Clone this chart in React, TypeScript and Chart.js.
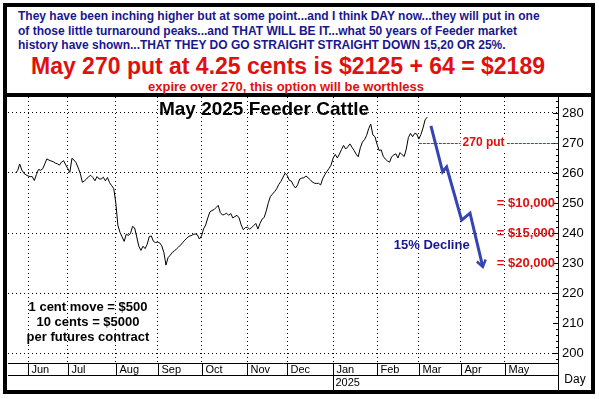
import React, { useEffect, useRef } from 'react';
import { Chart, registerables } from 'chart.js';

Chart.register(...registerables);

// Daily settlement prices (trading-day index 0 = late May 2024)
const prices = [
  260.0, 260.8, 263.0, 261.0, 259.9, 259.4,
  259.0, 258.8, 258.8, 257.5, 259.5, 261.2, 260.9, 261.4, 263.0, 264.7,
  264.3, 264.0, 263.8, 263.3, 263.1, 262.6, 263.6, 264.1, 262.7, 261.5,
  260.2, 264.9, 264.3, 263.4, 261.7, 259.8, 256.9, 257.4, 258.0, 258.8,
  259.2, 258.5, 257.4, 258.8, 258.0, 258.0, 258.6, 257.4, 258.5, 256.8,
  255.8, 254.8, 250.0, 242.5, 240.2, 238.7, 237.2, 239.6, 239.2, 239.8,
  242.2, 241.7, 238.7, 235.6, 234.2, 235.6, 234.8, 236.2, 238.8, 239.0,
  237.2, 236.8, 237.0, 236.7, 235.7, 233.5, 229.3, 231.8, 232.6, 233.5,
  234.0, 234.7, 235.3, 236.0, 236.8, 237.6, 238.3, 238.9, 239.1, 239.5,
  239.7, 239.4, 238.0, 239.0, 241.4, 242.7, 245.0, 247.0, 247.5, 247.8,
  248.5, 249.2, 246.8, 246.0, 246.2, 246.6, 245.9, 246.5, 245.0, 245.5,
  245.9, 245.0, 242.7, 241.1, 241.8, 241.9, 241.3, 241.8, 242.5, 243.2,
  241.3, 243.2, 244.6, 245.2, 247.4, 250.1, 252.2, 253.0, 253.8, 254.8,
  256.2, 257.2, 258.6, 259.9, 259.2, 257.6, 257.3, 255.9, 255.0, 256.1,
  258.0, 258.3, 258.4, 259.0, 258.4, 257.8, 257.0, 256.6, 256.5, 256.6,
  256.0, 258.1, 259.4, 260.5, 261.5, 262.6, 265.0, 266.2, 265.0, 266.3,
  267.8, 269.2, 268.0, 268.7, 269.7, 268.6, 267.5, 266.3, 265.4, 268.4,
  270.3, 271.1, 272.5, 274.8, 276.3, 272.7, 272.1, 269.6, 267.5, 267.7,
  265.5, 264.6, 264.0, 263.6, 265.4, 266.0, 266.4, 265.0, 266.8, 266.1,
  265.5, 268.0, 271.8, 273.2, 272.1, 273.2, 273.0, 271.3, 272.8, 275.0,
  277.7, 278.6,
];

const monthLabels = ['Jun', 'Jul', 'Aug', 'Sep', 'Oct', 'Nov', 'Dec', 'Jan', 'Feb', 'Mar', 'Apr', 'May'];
const monthStarts = [6, 25, 48, 68, 89, 111, 130, 152, 173, 193, 213, 234];
const yearLabel = '2025';
const yearMonthIndex = 7;
const xMin = -3.6;
const xMax = 259.6;

const yTicks = [200, 210, 220, 230, 240, 250, 260, 270, 280];
const yMin = 196.67;
const yMax = 285.33;

const putStrike = 270;
const putStartDay = 193;
const putLabelDay = 224;
const putLabel = '270 put';

const arrowDays = [198.8, 204.4, 206.3, 213.5, 217.5, 223.6];
const arrowPrices = [275.7, 260.4, 262.0, 244.3, 246.6, 228.7];
const declineLabel = '15% Decline';
const declineDay = 181;
const declinePrice = 235.7;

const lossLevels = [250, 240, 230];
const lossLabels = ['= $10,000', '= $15,000', '= $20,000'];

const chartTitle = 'May 2025 Feeder Cattle';
const noteLines = ['1 cent move = $500', '10 cents = $5000', 'per futures contract'];

const headerLines = [
  'They have been inching higher but at some point...and I think DAY now...they will put in one',
  'of those little turnaround peaks...and THAT WILL BE IT...what 50 years of Feeder market',
  'history have shown...THAT THEY DO GO STRAIGHT STRAIGHT DOWN 15,20 OR 25%.',
];
const headline = 'May 270 put at 4.25 cents is $2125 + 64 = $2189';
const subline = 'expire over 270, this option will be worthless';

const FONT = '"Liberation Sans", Arial, Helvetica, sans-serif';
const RED = '#e01010';
const NAVY = '#18188e';
const ARROW = '#3444b4';

const annotatePlugin = {
  id: 'annotate',
  afterDraw(chart: any) {
    const { ctx, chartArea: a, scales } = chart;
    const x = scales.x;
    const y = scales.y;
    const H = chart.height;
    const line = (x1: number, y1: number, x2: number, y2: number) => {
      ctx.beginPath();
      ctx.moveTo(x1, y1);
      ctx.lineTo(x2, y2);
      ctx.stroke();
    };
    ctx.save();
    ctx.strokeStyle = '#000';
    ctx.lineWidth = 1;
    ctx.setLineDash([]);

    // bottom date bands
    const band1 = Math.round(a.bottom) + 12;
    line(a.left, band1 + 0.5, a.right, band1 + 0.5);
    const axisX = Math.round(a.right) + 0.5;
    line(axisX, a.bottom, axisX, H);
    ctx.fillStyle = '#000';
    ctx.font = `11px ${FONT}`;
    ctx.textAlign = 'left';
    ctx.textBaseline = 'middle';
    monthStarts.forEach((d, i) => {
      const px = Math.round(x.getPixelForValue(d)) + 0.5;
      line(px, a.bottom, px, i === yearMonthIndex ? H : band1);
      ctx.fillText(monthLabels[i], px + 3, a.bottom + 7);
      if (i === yearMonthIndex) ctx.fillText(yearLabel, px + 2, band1 + 8);
    });
    ctx.font = `12px ${FONT}`;
    ctx.textAlign = 'center';
    ctx.fillText('Day', a.right + 17, band1 + 5);

    // minor ticks on the price axis
    for (let v = 198; v <= 284; v += 2) {
      const py = Math.round(y.getPixelForValue(v)) + 0.5;
      const len = v % 10 === 0 ? 5 : 2;
      line(a.right - len, py, a.right, py);
    }

    // title
    ctx.fillStyle = '#000';
    ctx.font = `bold 19px ${FONT}`;
    ctx.textAlign = 'center';
    ctx.textBaseline = 'middle';
    ctx.fillText(chartTitle, a.left + 256, a.top + 13);

    // notes bottom-left
    ctx.font = `bold 13px ${FONT}`;
    noteLines.forEach((t, i) => {
      ctx.fillText(t, a.left + 80, a.top + 210 + i * 15);
    });

    // 270 put line
    const py = y.getPixelForValue(putStrike);
    ctx.strokeStyle = RED;
    ctx.setLineDash([3, 1]);
    line(x.getPixelForValue(putStartDay), Math.round(py) + 0.5, a.right, Math.round(py) + 0.5);
    ctx.setLineDash([]);
    ctx.font = `bold 12px ${FONT}`;
    const lx = x.getPixelForValue(putLabelDay);
    const w = ctx.measureText(putLabel).width;
    ctx.fillStyle = '#fff';
    ctx.fillRect(lx - w / 2 - 2, py - 7, w + 4, 14);
    ctx.fillStyle = RED;
    ctx.fillText(putLabel, lx, py);

    // loss levels
    ctx.font = `bold 13px ${FONT}`;
    ctx.textAlign = 'right';
    lossLevels.forEach((lv, i) => {
      ctx.fillText(lossLabels[i], a.right - 3, y.getPixelForValue(lv));
    });

    // blue arrow
    ctx.strokeStyle = ARROW;
    ctx.lineWidth = 3;
    ctx.lineJoin = 'miter';
    ctx.beginPath();
    arrowDays.forEach((d, i) => {
      const px = x.getPixelForValue(d);
      const pyy = y.getPixelForValue(arrowPrices[i]);
      if (i === 0) ctx.moveTo(px, pyy);
      else ctx.lineTo(px, pyy);
    });
    ctx.stroke();
    const n = arrowDays.length;
    const tx = x.getPixelForValue(arrowDays[n - 1]);
    const ty = y.getPixelForValue(arrowPrices[n - 1]);
    const fx = x.getPixelForValue(arrowDays[n - 2]);
    const fy = y.getPixelForValue(arrowPrices[n - 2]);
    const ang = Math.atan2(ty - fy, tx - fx);
    const hl = 8;
    ctx.lineWidth = 2.5;
    ctx.beginPath();
    ctx.moveTo(tx - hl * Math.cos(ang - 0.6), ty - hl * Math.sin(ang - 0.6));
    ctx.lineTo(tx, ty);
    ctx.lineTo(tx - hl * Math.cos(ang + 0.6), ty - hl * Math.sin(ang + 0.6));
    ctx.stroke();

    ctx.fillStyle = NAVY;
    ctx.font = `bold 13px ${FONT}`;
    ctx.textAlign = 'left';
    ctx.fillText(declineLabel, x.getPixelForValue(declineDay), y.getPixelForValue(declinePrice));
    ctx.restore();
  },
};

export default function App() {
  const ref = useRef<HTMLCanvasElement | null>(null);
  useEffect(() => {
    const canvas = ref.current;
    if (!canvas) return;
    const chart = new Chart(canvas, {
      type: 'line',
      data: {
        datasets: [
          {
            data: prices.map((p, i) => ({ x: i, y: p })),
            borderColor: '#000',
            borderWidth: 1,
            pointRadius: 0,
            tension: 0,
          },
        ],
      },
      options: {
        animation: false,
        responsive: false,
        maintainAspectRatio: false,
        layout: { padding: { left: 1, right: 0, top: 0, bottom: 0 } },
        plugins: { legend: { display: false }, tooltip: { enabled: false }, title: { display: false } },
        scales: {
          x: {
            type: 'linear',
            min: xMin,
            max: xMax,
            position: 'bottom',
            afterBuildTicks: (s: any) => {
              s.ticks = monthStarts.map((v) => ({ value: v }));
            },
            ticks: { display: false },
            grid: { color: '#000', lineWidth: 1, drawTicks: false },
            border: { display: true, color: '#000', width: 1, dash: [1, 3] },
            afterFit: (s: any) => {
              s.height = 27;
            },
          },
          y: {
            type: 'linear',
            position: 'right',
            min: yMin,
            max: yMax,
            afterBuildTicks: (s: any) => {
              s.ticks = yTicks.map((v) => ({ value: v }));
            },
            ticks: { color: '#000', font: { size: 13, family: FONT }, padding: 4 },
            grid: {
              color: (c: any) => (c.tick && c.tick.value % 20 === 0 ? '#000' : 'rgba(0,0,0,0)'),
              drawTicks: false,
            },
            border: { display: true, color: '#000', width: 1, dash: [1, 3] },
            afterFit: (s: any) => {
              s.width = 33;
              s.paddingTop = 0;
              s.paddingBottom = 0;
            },
          },
        },
      },
      plugins: [annotatePlugin],
    } as any);
    return () => chart.destroy();
  }, []);

  const abs = (o: any) => ({ position: 'absolute', whiteSpace: 'nowrap', ...o } as React.CSSProperties);

  return (
    <div style={{ position: 'fixed', left: 0, top: 0, width: 599, height: 399, background: '#fff', overflow: 'hidden', fontFamily: FONT }}>
      <div style={abs({ left: 3, top: 3, width: 592, height: 391, border: '4px solid #000', boxSizing: 'border-box' })} />
      <div style={abs({ left: 3, top: 93, width: 592, height: 4, background: '#000' })} />
      {headerLines.map((t, i) => (
        <div key={i} style={abs({ left: 18, top: 9 + i * 14.5, fontSize: 12, lineHeight: '14px', fontWeight: 'bold', color: NAVY })}>{t}</div>
      ))}
      <div style={abs({ left: -12, width: 600, top: 53, textAlign: 'center', fontSize: 23, lineHeight: '26px', fontWeight: 'bold', color: RED })}>{headline}</div>
      <div style={abs({ left: -14, width: 600, top: 79, textAlign: 'center', fontSize: 13, lineHeight: '15px', fontWeight: 'bold', color: RED })}>{subline}</div>
      <canvas ref={ref} width={584} height={293} style={{ position: 'absolute', left: 7, top: 97, width: 584, height: 293 }} />
    </div>
  );
}
